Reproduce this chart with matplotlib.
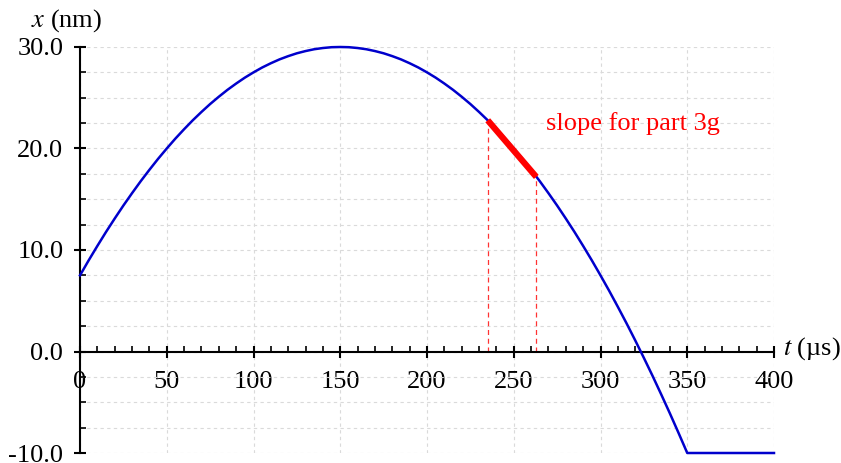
import numpy as np
import matplotlib
matplotlib.use('Agg')
import matplotlib.pyplot as plt
from matplotlib.ticker import MultipleLocator, FormatStrFormatter

plt.rcParams['font.family'] = ['Liberation Serif', 'DejaVu Serif']
plt.rcParams['mathtext.fontset'] = 'stix'
plt.rcParams['axes.unicode_minus'] = False

# position x (nm), every 5 us
t_us = [0, 5, 10, 15, 20, 25, 30, 35, 40, 45, 50, 55, 60, 65, 70, 75, 80, 85,
        90, 95, 100, 105, 110, 115, 120, 125, 130, 135, 140, 145, 150, 155,
        160, 165, 170, 175, 180, 185, 190, 195, 200, 205, 210, 215, 220, 225,
        230, 235, 240, 245, 250, 255, 260, 265, 270, 275, 280, 285, 290, 295,
        300, 305, 310, 315, 320, 325, 330, 335, 340, 345, 350, 400]
x_nm = [7.5, 8.98, 10.4, 11.78, 13.1, 14.38, 15.6, 16.78, 17.9, 18.98, 20.0,
        20.98, 21.9, 22.78, 23.6, 24.38, 25.1, 25.78, 26.4, 26.98, 27.5, 27.98,
        28.4, 28.78, 29.1, 29.38, 29.6, 29.78, 29.9, 29.98, 30.0, 29.98, 29.9,
        29.78, 29.6, 29.38, 29.1, 28.78, 28.4, 27.98, 27.5, 26.98, 26.4, 25.78,
        25.1, 24.38, 23.6, 22.78, 21.9, 20.98, 20.0, 18.98, 17.9, 16.78, 15.6,
        14.38, 13.1, 11.78, 10.4, 8.98, 7.5, 5.98, 4.4, 2.78, 1.1, -0.63, -2.4,
        -4.23, -6.1, -8.03, -10.0, -10.0]

# slope segment for part 3g
slope_t = [235, 263]
slope_x = [22.78, 17.2]

fig = plt.figure(figsize=(8.41, 4.63), dpi=100)
ax = fig.add_axes([80/841, 1-453/463, 694/841, 406/463])

ax.set_xlim(0, 400)
ax.set_ylim(-10, 30)

ax.spines['top'].set_visible(False)
ax.spines['right'].set_visible(False)
ax.spines['left'].set_position(('data', 0))
ax.spines['bottom'].set_position(('data', 0))
ax.spines['left'].set_linewidth(1.5)
ax.spines['bottom'].set_linewidth(1.5)

ax.xaxis.set_major_locator(MultipleLocator(50))
ax.xaxis.set_minor_locator(MultipleLocator(10))
ax.yaxis.set_major_locator(MultipleLocator(10))
ax.yaxis.set_minor_locator(MultipleLocator(2.5))
ax.yaxis.set_major_formatter(FormatStrFormatter('%.1f'))

ax.tick_params(axis='x', which='major', direction='inout', length=8, width=1.5,
               labelsize=19, pad=10)
ax.tick_params(axis='x', which='minor', direction='in', length=4, width=1.2)
ax.tick_params(axis='y', which='major', direction='inout', length=8, width=1.5,
               labelsize=19, pad=8)
ax.tick_params(axis='y', which='minor', direction='in', length=4, width=1.2)

ax.xaxis.grid(True, which='major', color='#dadada', linestyle=(0, (3, 3)), lw=0.8)
ax.yaxis.grid(True, which='both', color='#dadada', linestyle=(0, (3, 3)), lw=0.8)
ax.set_axisbelow(True)

ax.plot(t_us, x_nm, color='#0000cc', lw=1.8, clip_on=False, zorder=3)
ax.plot(slope_t, slope_x, color='red', lw=4.5, solid_capstyle='butt', zorder=4)
for tt, xx in zip(slope_t, slope_x):
    ax.plot([tt, tt], [0, xx], color='#ff3333', lw=0.9, linestyle=(0, (4, 3)), zorder=2)

ax.text(268.5, 22.5, 'slope for part 3g', color='red', fontsize=19,
        ha='left', va='center')
ax.text(-7.5, 32.6, '$x$ (nm)', fontsize=19, ha='center', va='center', clip_on=False)
ax.text(405, 0.3, '$t$ (\u00b5s)', fontsize=19, ha='left', va='center', clip_on=False)

fig.savefig('out.png', dpi=100)
